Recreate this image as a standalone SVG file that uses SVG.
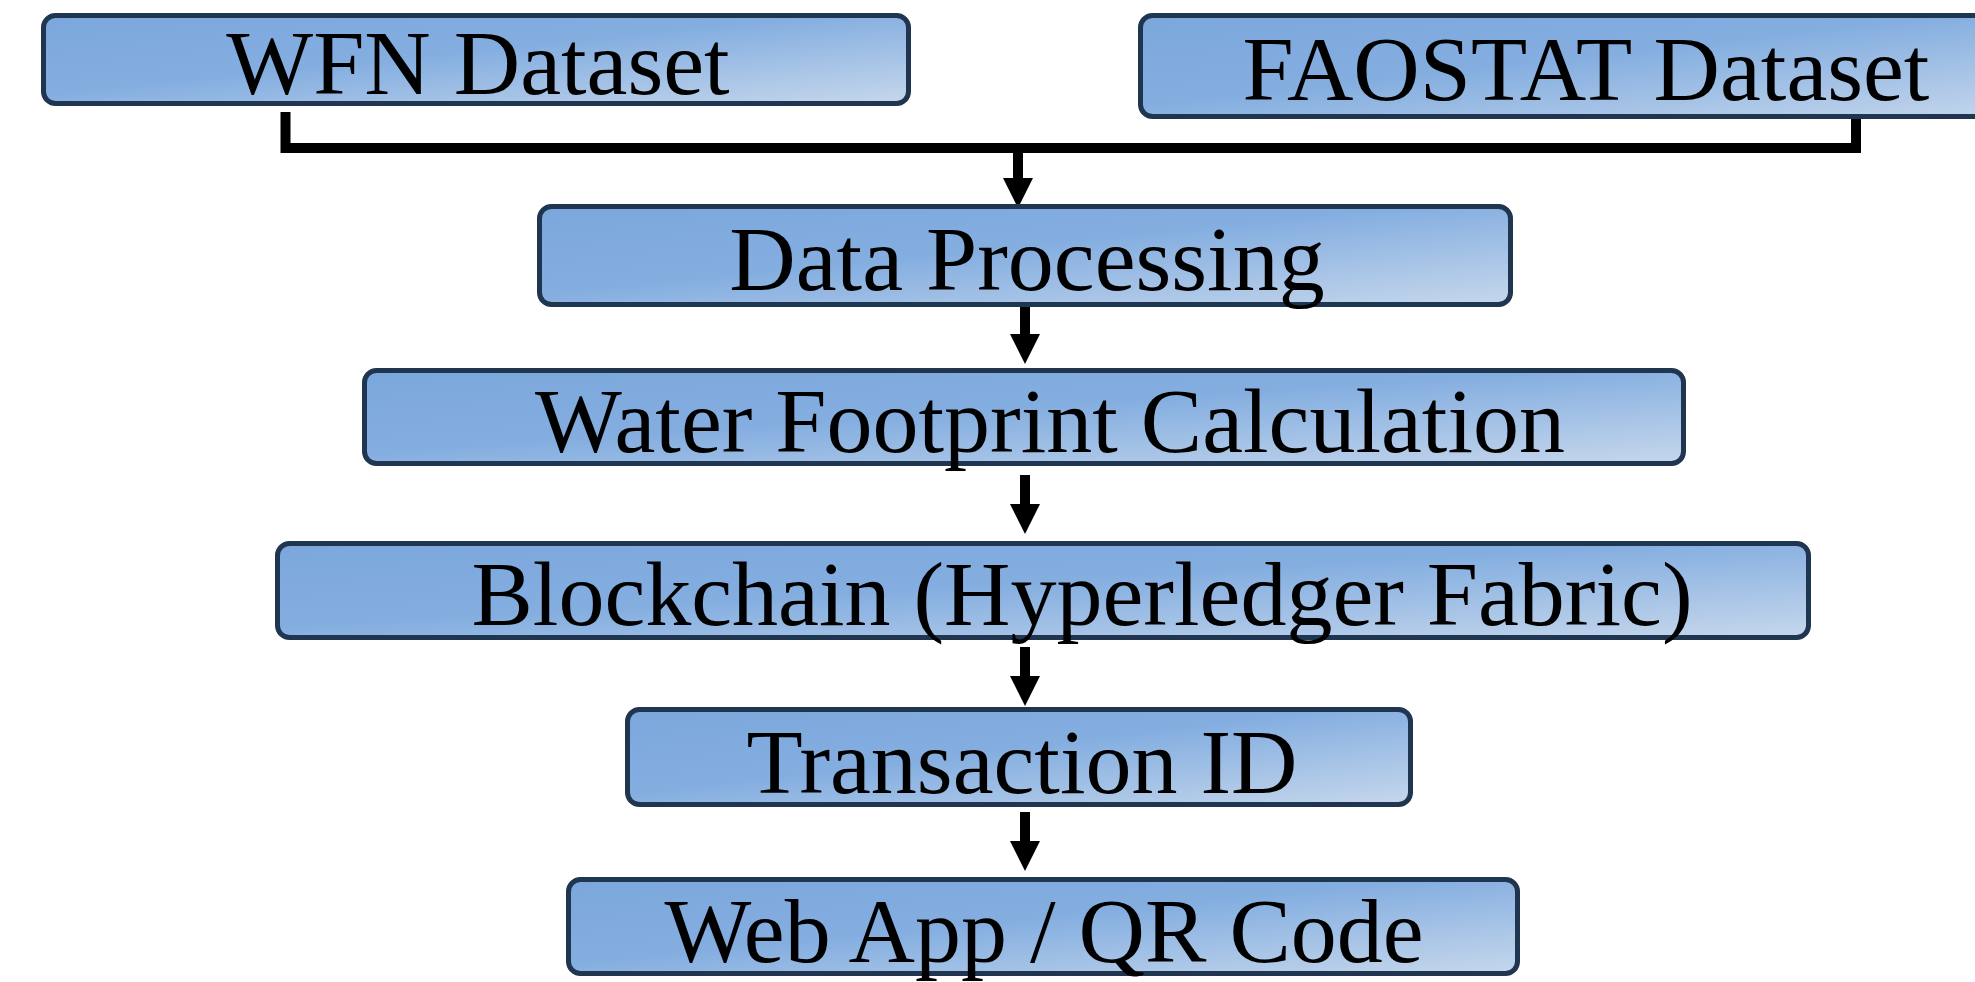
<svg xmlns="http://www.w3.org/2000/svg" width="1975" height="982" viewBox="0 0 1975 982">
<defs>
<linearGradient id="g" x1="0" y1="0" x2="1" y2="1">
<stop offset="0" stop-color="#7CA7DC"/>
<stop offset="0.45" stop-color="#84AEE0"/>
<stop offset="1" stop-color="#C6D7EC"/>
</linearGradient>
<marker id="ah" markerWidth="3" markerHeight="3" refX="0" refY="1.5" orient="auto" markerUnits="strokeWidth">
<path d="M0,0 L3,1.5 L0,3 Z" fill="#000"/>
</marker>
</defs>
<style>
.box{fill:url(#g);stroke:#1F3550;stroke-width:5}
.lbl{font-family:"Liberation Serif","Times New Roman",serif;font-size:92px;fill:#000;text-anchor:middle}
.con{fill:none;stroke:#000;stroke-width:10}
</style>
<rect width="1975" height="982" fill="#fff"/>
<g id="connectors">
<path class="con" d="M285.5,112 V148 H1856 V112" stroke-linejoin="miter"/>
<path class="con" d="M1018,148 V178" marker-end="url(#ah)"/>
<path class="con" d="M1025,307 V334" marker-end="url(#ah)"/>
<path class="con" d="M1025,475 V504" marker-end="url(#ah)"/>
<path class="con" d="M1025,647 V676" marker-end="url(#ah)"/>
<path class="con" d="M1025,812 V841" marker-end="url(#ah)"/>
</g>
<g id="wfn">
<rect class="box" x="43.5" y="15.5" width="865" height="88" rx="12"/>
<text class="lbl" x="478" y="94">WFN Dataset</text>
</g>
<g id="faostat">
<rect class="box" x="1140.5" y="15.5" width="900" height="101" rx="12"/>
<text class="lbl" x="1586" y="100">FAOSTAT Dataset</text>
</g>
<g id="processing">
<rect class="box" x="539.5" y="206.5" width="971" height="98" rx="12"/>
<text class="lbl" x="1027" y="290">Data Processing</text>
</g>
<g id="footprint">
<rect class="box" x="364.5" y="370.5" width="1319" height="93" rx="12"/>
<text class="lbl" x="1050" y="452">Water Footprint Calculation</text>
</g>
<g id="blockchain">
<rect class="box" x="277.5" y="543.5" width="1531" height="94" rx="12"/>
<text class="lbl" x="1082" y="625">Blockchain (Hyperledger Fabric)</text>
</g>
<g id="transaction">
<rect class="box" x="627.5" y="709.5" width="783" height="95" rx="12"/>
<text class="lbl" x="1022" y="793">Transaction ID</text>
</g>
<g id="webapp">
<rect class="box" x="568.5" y="879.5" width="949" height="94" rx="12"/>
<text class="lbl" x="1044" y="962">Web App / QR Code</text>
</g>
</svg>
